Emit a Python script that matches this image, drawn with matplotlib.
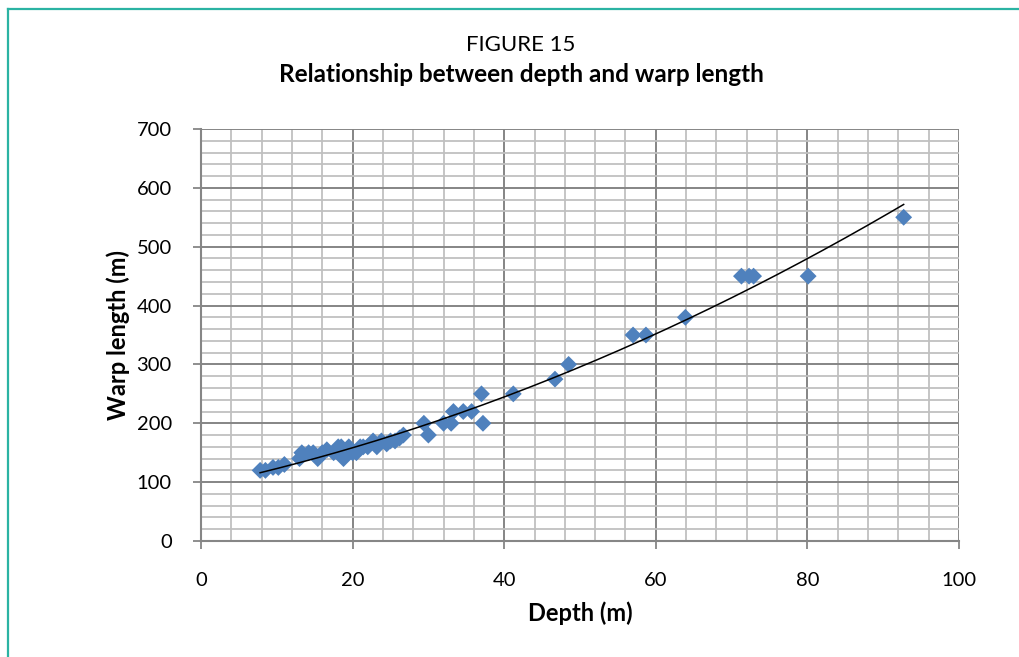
import matplotlib
matplotlib.use('Agg')
import matplotlib.pyplot as plt
from matplotlib.lines import Line2D
from matplotlib.ticker import MultipleLocator
import numpy as np

plt.rcParams['font.family'] = ['Lato', 'DejaVu Sans']

# Valores
profundidade = [7.8, 8.5, 9.5, 10.2, 11.0, 13.0, 13.3, 14.2, 14.8, 15.4,
                16.0, 16.6, 17.5, 18.1, 18.5, 18.8, 19.5, 20.0, 20.5, 21.0,
                21.4, 22.0, 22.7, 23.2, 23.8, 24.5, 25.0, 25.6, 26.2, 26.7,
                29.4, 30.0, 32.0, 33.0, 33.3, 34.6, 35.7, 37.0, 37.2, 41.2,
                46.7, 48.5, 57.0, 58.7, 63.9, 71.3, 72.3, 72.9, 80.1, 92.7]
cabo = [120, 120, 125, 125, 130, 140, 150, 150, 150, 140,
        150, 155, 150, 160, 160, 140, 160, 150, 150, 160,
        160, 160, 170, 160, 170, 165, 170, 170, 175, 180,
        200, 180, 200, 200, 220, 220, 220, 250, 200, 250,
        275, 300, 350, 350, 380, 450, 450, 450, 450, 550]

titulo1 = 'FIGURE 15'
titulo2 = 'Relationship between depth and warp length'
rotulo_x = 'Depth (m)'
rotulo_y = 'Warp length (m)'

fig = plt.figure(figsize=(10.19, 6.57), dpi=100)
ax = fig.add_axes([201/1019, 1-541/657, (959-201)/1019, (541-129)/657])

# Linha de tendência polinomial (ordem 2)
coef = np.polyfit(profundidade, cabo, 2)
xs = np.linspace(min(profundidade), max(profundidade), 200)
ax.plot(xs, np.polyval(coef, xs), color='black', lw=1.1, zorder=4)

ax.scatter(profundidade, cabo, marker='D', s=8.6**2, color='#4f81bd',
           edgecolors='none', zorder=3)

ax.set_xlim(0, 100)
ax.set_ylim(0, 700)
ax.xaxis.set_major_locator(MultipleLocator(20))
ax.xaxis.set_minor_locator(MultipleLocator(4))
ax.yaxis.set_major_locator(MultipleLocator(100))
ax.yaxis.set_minor_locator(MultipleLocator(20))
ax.grid(which='minor', color='#c0c0c0', lw=1.3)
ax.grid(which='major', color='#858585', lw=1.4)
ax.set_axisbelow(True)

for s in ['top', 'right']:
    ax.spines[s].set_visible(False)
for s in ['left', 'bottom']:
    ax.spines[s].set_color('#868686')
    ax.spines[s].set_linewidth(1.5)

ax.tick_params(which='major', length=6, width=1.3, color='#868686',
               labelsize=14.5)
ax.tick_params(which='minor', length=0)
ax.tick_params(axis='x', pad=16)
ax.tick_params(axis='y', pad=15)

ax.set_xlabel(rotulo_x, fontsize=17, fontweight='bold', labelpad=9)
ax.set_ylabel(rotulo_y, fontsize=17, fontweight='bold', labelpad=5)

fig.text(521/1019, 1-45/657, titulo1, ha='center', va='center', fontsize=16)
fig.text(521/1019, 1-74/657, titulo2, ha='center', va='center', fontsize=17.5,
         fontweight='bold')

# Moldura verde-azulada
fig.add_artist(Line2D([8/1019, 1], [1-9/657, 1-9/657], color='#2bb3a3', lw=1.6))
fig.add_artist(Line2D([8/1019, 8/1019], [0, 1-9/657], color='#2bb3a3', lw=1.6))

fig.savefig('out.png', dpi=100)
